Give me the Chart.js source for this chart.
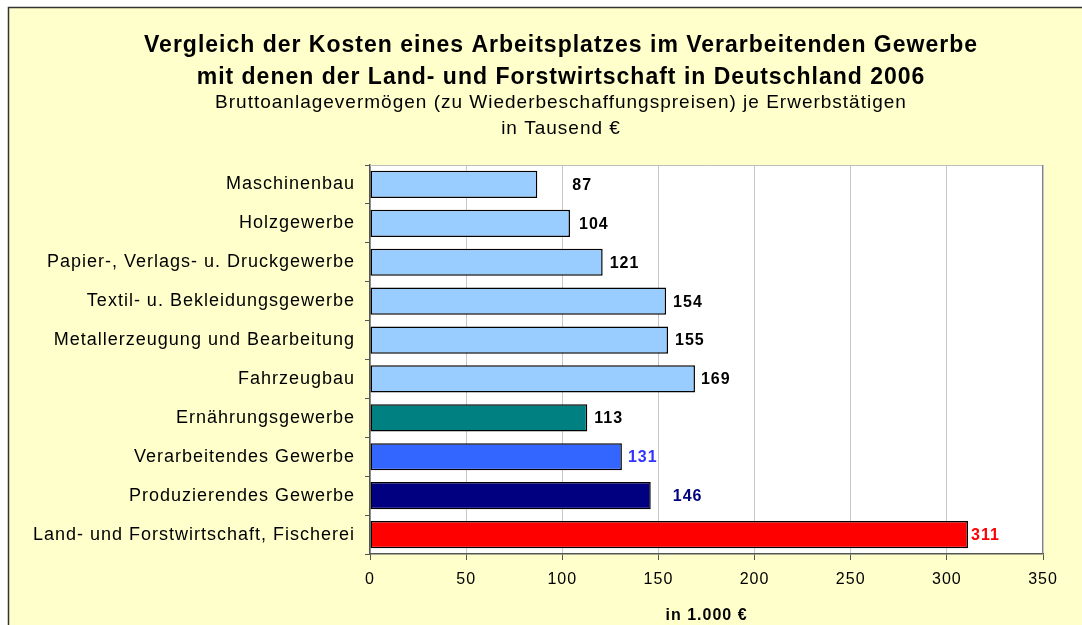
<!DOCTYPE html>
<html>
<head>
<meta charset="utf-8">
<script src="https://cdn.jsdelivr.net/npm/chart.js@4/dist/chart.umd.min.js"></script>
<style>
  html, body { margin: 0; padding: 0; background: #fff; }
  #wrap { width: 1082px; height: 625px; }
</style>
</head>
<body>
<div id="wrap"><canvas id="chart" width="1082" height="625"></canvas></div>
<script>
// ------------- Daten -------------
const categories = [
  'Maschinenbau',
  'Holzgewerbe',
  'Papier-, Verlags- u. Druckgewerbe',
  'Textil- u. Bekleidungsgewerbe',
  'Metallerzeugung und Bearbeitung',
  'Fahrzeugbau',
  'Ernährungsgewerbe',
  'Verarbeitendes Gewerbe',
  'Produzierendes Gewerbe',
  'Land- und Forstwirtschaft, Fischerei'
];
const values = [87, 104, 121, 154, 155, 169, 113, 131, 146, 311];
const xTicks = [0, 50, 100, 150, 200, 250, 300, 350];
const titleLines = ['Vergleich der Kosten eines Arbeitsplatzes im Verarbeitenden Gewerbe',
                    'mit denen der Land- und Forstwirtschaft in Deutschland 2006'];
const subtitleLines = ['Bruttoanlagevermögen (zu Wiederbeschaffungspreisen) je Erwerbstätigen',
                       'in Tausend €'];
const axisTitle = 'in 1.000 €';

// ------------- Stil -------------
const barColors = ['#99CCFF', '#99CCFF', '#99CCFF', '#99CCFF', '#99CCFF', '#99CCFF',
                   '#008080', '#3366FF', '#000080', '#FF0000'];
const labelColors = ['#000', '#000', '#000', '#000', '#000', '#000',
                     '#000', '#3333FF', '#000080', '#FF0000'];
const labelGap = [35, 9, 7, 7, 7, 6, 7, 6, 22, 3]; // Abstand Balkenende -> Beschriftung (px)
const FONT = '"Liberation Sans", Arial, sans-serif';
const SPACING = '1px'; // Zeichenabstand wie im Excel-Export

// Hintergrund, Rahmen, Plotfläche
const backdrop = {
  id: 'backdrop',
  beforeDraw(chart) {
    const { ctx, chartArea: a } = chart;
    ctx.letterSpacing = SPACING;
    ctx.save();
    ctx.fillStyle = '#fff';
    ctx.fillRect(0, 0, chart.width, chart.height);
    ctx.fillStyle = '#FFFFCC';
    ctx.fillRect(8, 7, chart.width, chart.height);
    ctx.strokeStyle = '#333';
    ctx.lineWidth = 1.5;
    ctx.strokeRect(8.5, 7.5, chart.width + 10, chart.height + 10);
    ctx.fillStyle = '#fff';
    ctx.fillRect(a.left, a.top, a.right - a.left, a.bottom - a.top);
    ctx.restore();
  },
  afterDraw(chart) {
    const { ctx, chartArea: a } = chart;
    ctx.save();
    ctx.strokeStyle = '#BDBDBD';
    ctx.lineWidth = 1;
    ctx.beginPath();
    ctx.moveTo(a.left, a.top + 0.5); ctx.lineTo(a.right, a.top + 0.5);
    ctx.stroke();
    ctx.strokeStyle = '#808080';
    ctx.beginPath();
    ctx.moveTo(a.right - 0.5, a.top); ctx.lineTo(a.right - 0.5, a.bottom);
    ctx.stroke();
    ctx.restore();
  }
};

// Überschrift (zentriert über dem ganzen Rahmen, nicht nur über der Plotfläche)
const heading = {
  id: 'heading',
  afterDraw(chart) {
    const { ctx } = chart;
    const cx = 561;
    ctx.save();
    ctx.fillStyle = '#000';
    ctx.textAlign = 'center';
    ctx.textBaseline = 'middle';
    ctx.font = `bold 23px ${FONT}`;
    titleLines.forEach((t, i) => ctx.fillText(t, cx, 46 + i * 32));
    ctx.font = `19px ${FONT}`;
    subtitleLines.forEach((t, i) => ctx.fillText(t, cx, 103 + i * 26));
    ctx.restore();
  }
};

// Wertbeschriftungen
const valueLabels = {
  id: 'valueLabels',
  afterDatasetsDraw(chart) {
    const { ctx } = chart;
    const meta = chart.getDatasetMeta(0);
    ctx.save();
    ctx.font = `bold 16px ${FONT}`;
    ctx.textAlign = 'left';
    ctx.textBaseline = 'middle';
    meta.data.forEach((bar, i) => {
      ctx.fillStyle = labelColors[i];
      ctx.fillText(String(values[i]), bar.x + labelGap[i], bar.y + 1);
    });
    ctx.restore();
  }
};

new Chart(document.getElementById('chart'), {
  type: 'bar',
  data: {
    labels: categories,
    datasets: [{
      data: values,
      backgroundColor: barColors,
      borderColor: '#000',
      borderWidth: 1.5,
      borderSkipped: false,
      categoryPercentage: 1,
      barPercentage: 0.7
    }]
  },
  options: {
    animation: false,
    responsive: false,
    indexAxis: 'y',
    layout: { padding: { left: 8, right: 39, top: 165, bottom: 0 } },
    plugins: {
      legend: { display: false },
      tooltip: { enabled: false },
      title: { display: false }
    },
    scales: {
      x: {
        min: 0, max: 350,
        afterBuildTicks: s => { s.ticks = xTicks.map(v => ({ value: v })); },
        afterFit: s => { s.height = 71; },
        grid: { color: '#C8C8C8', tickColor: '#555', tickLength: 6, lineWidth: 1 },
        border: { color: '#555', width: 1.5 },
        ticks: { color: '#000', font: { family: FONT, size: 16 }, padding: 10, maxRotation: 0 },
        title: {
          display: true, text: axisTitle, color: '#000',
          font: { family: FONT, size: 16, weight: 'bold', lineHeight: 1.2 },
          padding: { top: 3, bottom: 0 }
        }
      },
      y: {
        afterFit: s => { s.width = 362; },
        grid: { drawOnChartArea: false, tickColor: '#555', tickLength: 5, offset: true },
        border: { color: '#555', width: 1.5 },
        ticks: { color: '#000', font: { family: FONT, size: 18 }, padding: 10, autoSkip: false }
      }
    }
  },
  plugins: [backdrop, heading, valueLabels]
});
</script>
</body>
</html>
